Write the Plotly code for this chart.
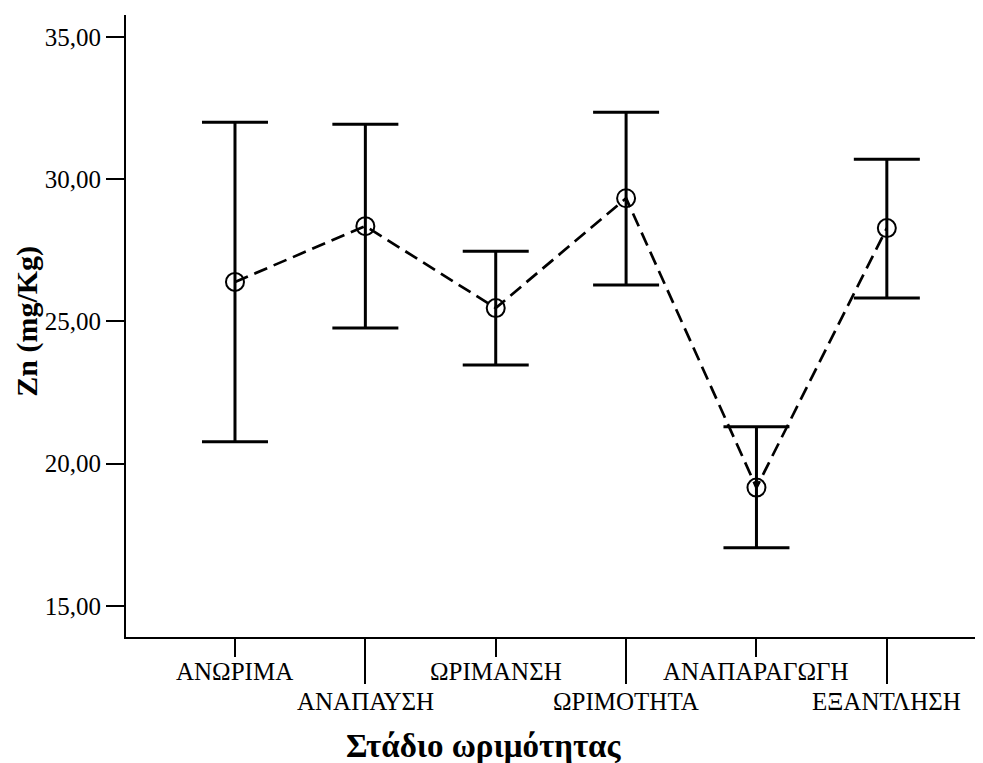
"""Error bar chart of Zn (mg/Kg) by maturity stage, SPSS style."""
import plotly.graph_objs as go

categories = ["ΑΝΩΡΙΜΑ", "ΑΝΑΠΑΥΣΗ", "ΩΡΙΜΑΝΣΗ", "ΩΡΙΜΟΤΗΤΑ", "ΑΝΑΠΑΡΑΓΩΓΗ", "ΕΞΑΝΤΛΗΣΗ"]
means = [26.39, 28.35, 25.47, 29.33, 19.16, 28.28]
upper = [32.00, 31.93, 27.47, 32.35, 21.30, 30.70]
lower = [20.77, 24.77, 23.47, 26.28, 17.05, 25.82]
y_ticks = [15, 20, 25, 30, 35]

FONT = "Liberation Serif"

xpos = list(range(len(categories)))
err_plus = [u - m for u, m in zip(upper, means)]
err_minus = [m - l for m, l in zip(means, lower)]

# means + 95% CI bars
data = [go.Scatter(
    x=xpos,
    y=means,
    mode='lines+markers',
    line=dict(color='black', width=2.7, dash='14px,7px'),
    marker=dict(symbol='circle-open', size=18, color='black',
                line=dict(width=2, color='black')),
    error_y=dict(
        type='data',
        symmetric=False,
        array=err_plus,
        arrayminus=err_minus,
        color='black',
        thickness=3,
        width=33,
    ),
    showlegend=False,
)]

# dummy trace so the second x axis gets drawn
data.append(go.Scatter(x=[None], y=[None], xaxis='x2', showlegend=False,
                       hoverinfo='skip'))

even = xpos[0::2]
odd = xpos[1::2]
xrange = [-0.836, 5.73]

# category labels, staggered in two rows (SPSS style)
annotations = []
for i, cat in zip(xpos, categories):
    annotations.append(dict(
        text=cat, x=i, xref='x', yref='paper',
        y=-0.0547 if i % 2 == 0 else -0.103,
        showarrow=False, xanchor='center', yanchor='middle',
        font=dict(family=FONT, size=25, color='black')))

annotations += [
    dict(text='<b>Στάδιο ωριμότητας</b>', xref='paper', yref='paper',
         x=0.418, y=-0.175, showarrow=False,
         xanchor='center', yanchor='middle',
         font=dict(family=FONT, size=33, color='black')),
    dict(text='<b>Zn (mg/Kg)</b>', xref='paper', yref='paper',
         x=-0.116, y=0.508, showarrow=False, textangle=-90,
         xanchor='center', yanchor='middle',
         font=dict(family=FONT, size=30, color='black')),
]

# page body has an 8px margin, so the figure is shrunk by that much
layout = go.Layout(
    width=975,
    height=755,
    margin=dict(l=118, r=1, t=7, b=126),
    paper_bgcolor='white',
    plot_bgcolor='white',
    separators=',.',
    font=dict(family=FONT, color='black'),

    # short ticks
    xaxis=dict(
        range=xrange,
        tickvals=even,
        showticklabels=False,
        ticks='outside',
        ticklen=18,
        tickwidth=1.5,
        tickcolor='black',
        showline=True,
        linecolor='black',
        linewidth=2,
        showgrid=False,
        zeroline=False,
    ),
    # long ticks
    xaxis2=dict(
        overlaying='x',
        matches='x',
        side='bottom',
        range=xrange,
        tickvals=odd,
        showticklabels=False,
        ticks='outside',
        ticklen=46,
        tickwidth=1.5,
        tickcolor='black',
        showline=False,
        showgrid=False,
        zeroline=False,
    ),
    yaxis=dict(
        range=[13.91, 35.77],
        tickvals=y_ticks,
        tickformat='.2f',
        ticks='outside',
        ticklen=18,
        tickwidth=2,
        tickcolor='black',
        tickfont=dict(family=FONT, size=25, color='black'),
        showline=True,
        linecolor='black',
        linewidth=2,
        showgrid=False,
        zeroline=False,
    ),

    annotations=annotations,
)

fig = go.Figure(data=data, layout=layout)
fig.write_html("out.html")
